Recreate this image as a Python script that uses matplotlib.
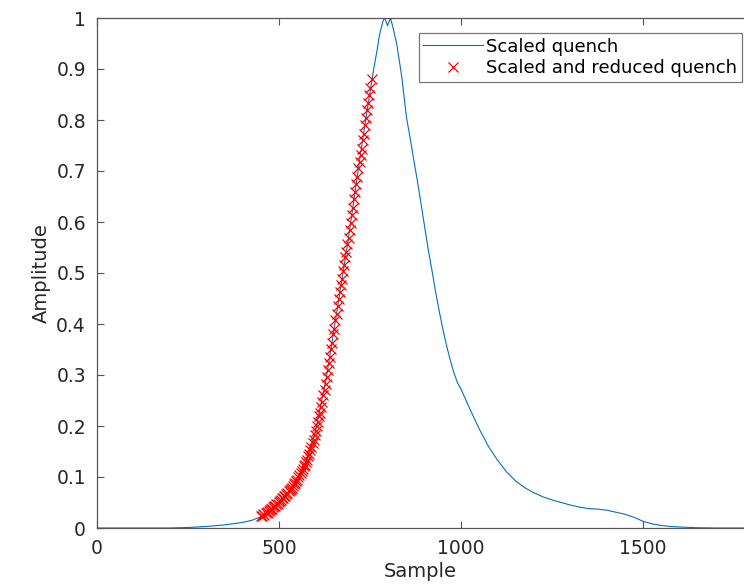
import numpy as np
import matplotlib
matplotlib.use("Agg")
import matplotlib.pyplot as plt

# scaled quench
quench_x = [0, 100, 200, 250, 300, 350, 400, 425, 450, 475, 500, 525, 550, 575,
            600, 630, 660, 690, 720, 740, 760, 770, 776, 785, 790, 798, 806,
            812, 823, 837, 850, 860, 870, 880, 890, 900, 910, 920, 930, 940,
            950, 960, 970, 980, 990, 1000, 1025, 1050, 1075, 1100, 1125, 1150,
            1175, 1200, 1225, 1250, 1275, 1300, 1325, 1350, 1375, 1400, 1425,
            1450, 1475, 1500, 1525, 1550, 1575, 1600, 1650, 1700, 1800]
quench_y = [0.0, 0.0, 0.0, 0.001, 0.003, 0.006, 0.011, 0.015, 0.022, 0.035,
            0.051, 0.07, 0.096, 0.13, 0.19, 0.295, 0.43, 0.565, 0.715, 0.81,
            0.9, 0.94, 0.967, 0.993, 1.0, 0.985, 1.0, 0.984, 0.95, 0.885, 0.805,
            0.765, 0.722, 0.68, 0.636, 0.59, 0.545, 0.505, 0.463, 0.425, 0.39,
            0.358, 0.33, 0.305, 0.285, 0.272, 0.232, 0.194, 0.16, 0.133, 0.11,
            0.092, 0.079, 0.069, 0.061, 0.055, 0.05, 0.045, 0.041, 0.038,
            0.037, 0.035, 0.031, 0.027, 0.021, 0.013, 0.008, 0.005, 0.003,
            0.002, 0.0005, 0.0, 0.0]

# scaled and reduced quench
reduced_x = [451, 454, 457, 460, 463, 466, 469, 472, 475, 478, 481, 484, 487,
             490, 493, 496, 499, 502, 505, 508, 511, 514, 517, 520, 523, 526,
             529, 532, 535, 538, 541, 544, 547, 550, 553, 556, 559, 562, 565,
             568, 571, 574, 577, 580, 583, 586, 589, 592, 595, 598, 601, 604,
             607, 610, 613, 616, 619, 622, 625, 628, 631, 634, 637, 640, 643,
             646, 649, 652, 655, 658, 661, 664, 667, 670, 673, 676, 679, 682,
             685, 688, 691, 694, 697, 700, 703, 706, 709, 712, 715, 718, 721,
             724, 727, 730, 733, 736, 739, 742, 745, 748, 751, 754]
reduced_y = [0.023, 0.024, 0.027, 0.026, 0.029, 0.031, 0.03, 0.034, 0.035,
             0.038, 0.037, 0.041, 0.043, 0.044, 0.047, 0.048, 0.051, 0.053,
             0.054, 0.058, 0.059, 0.062, 0.063, 0.067, 0.068, 0.072, 0.074,
             0.077, 0.079, 0.083, 0.086, 0.088, 0.093, 0.095, 0.1, 0.103,
             0.107, 0.112, 0.115, 0.121, 0.124, 0.13, 0.134, 0.141, 0.145,
             0.153, 0.158, 0.167, 0.173, 0.183, 0.19, 0.2, 0.208, 0.219,
             0.226, 0.238, 0.247, 0.26, 0.27, 0.283, 0.296, 0.309, 0.323,
             0.336, 0.351, 0.362, 0.38, 0.391, 0.408, 0.42, 0.435, 0.449,
             0.462, 0.476, 0.489, 0.503, 0.515, 0.531, 0.541, 0.557, 0.569,
             0.585, 0.598, 0.614, 0.627, 0.645, 0.659, 0.675, 0.688, 0.705,
             0.718, 0.731, 0.744, 0.76, 0.773, 0.79, 0.803, 0.82, 0.834, 0.85,
             0.862, 0.88]

xticks = [0, 500, 1000, 1500]
yticks = [0, 0.1, 0.2, 0.3, 0.4, 0.5, 0.6, 0.7, 0.8, 0.9, 1]
ytick_labels = ["0", "0.1", "0.2", "0.3", "0.4", "0.5", "0.6", "0.7", "0.8", "0.9", "1"]

fig = plt.figure(figsize=(7.44, 5.88), dpi=100)
ax = fig.add_axes([97 / 744, 60 / 588, 1 - 97 / 744, 510 / 588])

ax.plot(quench_x, quench_y, color="#0072BD", lw=0.8, label="Scaled quench")
ax.plot(reduced_x, reduced_y, "x", color="red", ms=7, mew=0.9,
        label="Scaled and reduced quench")

ax.set_xlim(0, 1777)
ax.set_ylim(0, 1)
ax.set_xticks(xticks)
ax.set_yticks(yticks)
ax.set_yticklabels(ytick_labels)

axcol = "#555555"
for side in ["left", "bottom", "top"]:
    ax.spines[side].set_color(axcol)
    ax.spines[side].set_linewidth(0.9)
ax.spines["right"].set_visible(False)
ax.tick_params(direction="in", length=5, width=0.8, color=axcol,
               labelcolor="#262626", labelsize=13.5, pad=8, top=True)

ax.set_xlabel("Sample", fontsize=14, color="#262626", labelpad=3)
ax.set_ylabel("Amplitude", fontsize=14, color="#262626", labelpad=4)

leg = ax.legend(loc="upper right", bbox_to_anchor=(645 / 647, 1 - 15 / 510),
                borderaxespad=0, fontsize=13, fancybox=False, framealpha=1,
                edgecolor="#777777", handlelength=3.3, handletextpad=0.2,
                labelspacing=0.2, borderpad=0.25)
leg.get_frame().set_linewidth(0.9)

fig.savefig("out.png", dpi=100)
